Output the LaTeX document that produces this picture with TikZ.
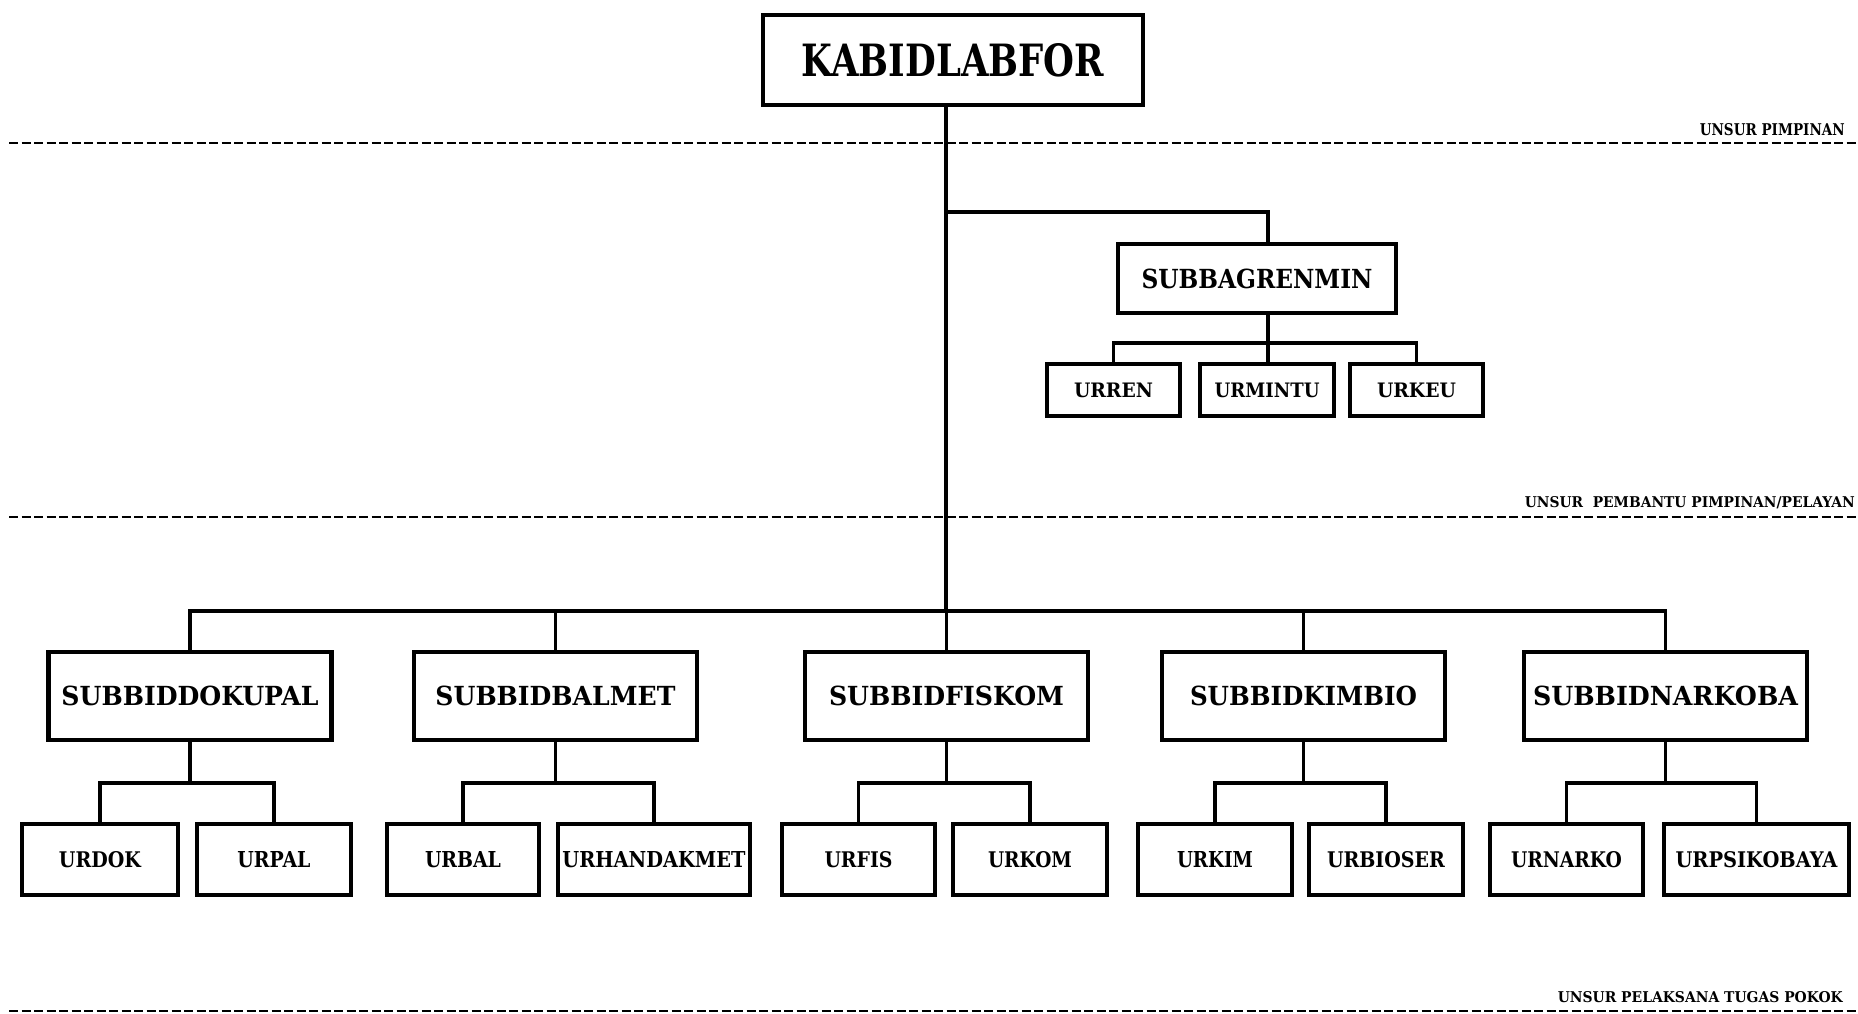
\documentclass[tikz,border=0pt]{standalone}
\usepackage{fontspec}
\setmainfont{DejaVu Serif}
\usepackage{graphicx}
\newcommand{\fitx}[3]{\resizebox{#1pt}{#2pt}{\bfseries #3}}
\begin{document}
\begin{tikzpicture}[x=1pt,y=-1pt,
  box/.style={draw, line width=4.5pt, inner sep=0pt, fill=white},
  topbox/.style={box, minimum width=380pt, minimum height=90pt},
  midbox/.style={box, minimum width=278pt, minimum height=69pt},
  lvbox/.style={box, minimum width=283pt, minimum height=88pt},
  leaf/.style={box, minimum height=71pt},
  sleaf/.style={box, minimum height=52pt},
  conn/.style={line width=3.8pt},
  sepline/.style={line width=2.2pt, dash pattern=on 9pt off 3.5pt},
  lbl/.style={inner sep=0pt, anchor=base east, text=black}]
\useasboundingbox (0,0) rectangle (1858,1013);

% separators
\draw[sepline] (9,143) -- (1858,143);
\draw[sepline] (9,517) -- (1858,517);
\draw[sepline] (9,1011) -- (1858,1011);
\node[lbl] (l1) at (1845,135) {\fitx{145}{12}{UNSUR PIMPINAN}};
\node[lbl] (l2) at (1855,507) {\fitx{330}{11}{UNSUR\ \ PEMBANTU PIMPINAN/PELAYAN}};
\node[lbl] (l3) at (1843,1002) {\fitx{285}{11}{UNSUR PELAKSANA TUGAS POKOK}};

% top
\node[topbox] (k) at (953,60) {\fitx{302}{33}{KABIDLABFOR}};
\coordinate (j1) at (946,212);
\coordinate (bar) at (946,611);

% subbagrenmin
\node[midbox] (sb) at (1257,278.5) {\fitx{231}{19.5}{SUBBAGRENMIN}};
\node[sleaf, minimum width=133pt] (c1) at (1113.5,390) {\fitx{79}{14.5}{URREN}};
\node[sleaf, minimum width=134pt] (c2) at (1267,390) {\fitx{105}{14.5}{URMINTU}};
\node[sleaf, minimum width=133pt] (c3) at (1416.5,390) {\fitx{79}{14.5}{URKEU}};
\coordinate (sbb) at (1268,343);

% level 1
\node[lvbox] (d1) at (190,696) {\fitx{257}{19.5}{SUBBIDDOKUPAL}};
\node[lvbox] (d2) at (555.5,696) {\fitx{240}{19.5}{SUBBIDBALMET}};
\node[lvbox] (d3) at (946.5,696) {\fitx{235}{19.5}{SUBBIDFISKOM}};
\node[lvbox] (d4) at (1303.5,696) {\fitx{227}{19.5}{SUBBIDKIMBIO}};
\node[lvbox] (d5) at (1665.5,696) {\fitx{265}{19.5}{SUBBIDNARKOBA}};
\coordinate (sub) at (0,783);

% level 2
\node[leaf, minimum width=156pt] (e1) at (100,859.5) {\fitx{82}{16}{URDOK}};
\node[leaf, minimum width=154pt] (e2) at (274,859.5) {\fitx{73}{16}{URPAL}};
\node[leaf, minimum width=152pt] (e3) at (463,859.5) {\fitx{76}{16}{URBAL}};
\node[leaf, minimum width=192pt] (e4) at (654,859.5) {\fitx{183}{16}{URHANDAKMET}};
\node[leaf, minimum width=153pt] (e5) at (858.5,859.5) {\fitx{68}{16}{URFIS}};
\node[leaf, minimum width=154pt] (e6) at (1030,859.5) {\fitx{84}{16}{URKOM}};
\node[leaf, minimum width=154pt] (e7) at (1215,859.5) {\fitx{76}{16}{URKIM}};
\node[leaf, minimum width=154pt] (e8) at (1386,859.5) {\fitx{118}{16}{URBIOSER}};
\node[leaf, minimum width=153pt] (e9) at (1566.5,859.5) {\fitx{111}{16}{URNARKO}};
\node[leaf, minimum width=185pt] (e10) at (1756.5,859.5) {\fitx{162}{16}{URPSIKOBAYA}};

% connectors
\draw[conn] (k.south -| bar) -- (bar);
\draw[conn] (j1) -| (sb.north -| sbb);
\draw[conn] (sb.south -| sbb) -- (c2.north -| sbb);
\draw[conn] (c1.north) -- (c1.north |- sbb) -- (c3.north |- sbb) -- (c3.north);
\draw[conn] (d1.north) -- (d1.north |- bar) -- (d5.north |- bar) -- (d5.north);
\draw[conn] (d2.north |- bar) -- (d2.north);
\draw[conn] (d3.north |- bar) -- (d3.north);
\draw[conn] (d4.north |- bar) -- (d4.north);
\foreach \p/\a/\b in {d1/e1/e2, d2/e3/e4, d3/e5/e6, d4/e7/e8, d5/e9/e10}{
  \draw[conn] (\p.south) -- (\p.south |- sub);
  \draw[conn] (\a.north) -- (\a.north |- sub) -- (\b.north |- sub) -- (\b.north);
}
\end{tikzpicture}
\end{document}
